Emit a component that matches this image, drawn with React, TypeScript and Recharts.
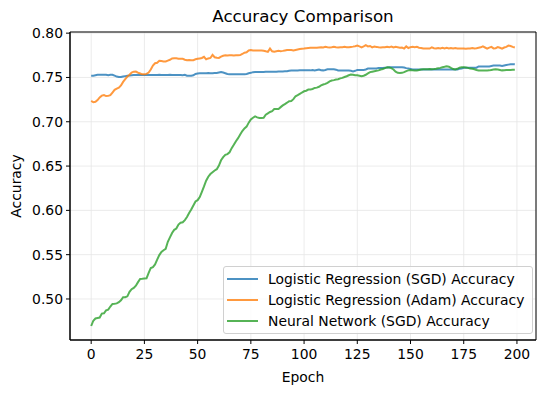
import { CartesianGrid, Legend, Line, LineChart, ReferenceArea, XAxis, YAxis } from "recharts";

const epochs = Array.from({ length: 200 }, (_, i) => i);

const lrSgdAcc = [
  0.752, 0.752, 0.7525, 0.753, 0.753, 0.753, 0.753, 0.753, 0.7525, 0.753,
  0.753, 0.752, 0.751, 0.7505, 0.7505, 0.751, 0.7515, 0.752, 0.7522, 0.7525,
  0.7528, 0.7528, 0.753, 0.7528, 0.7528, 0.7528, 0.753, 0.7528, 0.7528, 0.7528,
  0.7528, 0.7528, 0.753, 0.7528, 0.7528, 0.7528, 0.7528, 0.753, 0.7528, 0.7528,
  0.7528, 0.7528, 0.7528, 0.7525, 0.753, 0.752, 0.7518, 0.752, 0.7525, 0.754,
  0.7545, 0.7548, 0.7548, 0.7548, 0.7548, 0.755, 0.7548, 0.7548, 0.755, 0.755,
  0.7555, 0.756, 0.7555, 0.7548, 0.754, 0.7535, 0.7535, 0.7535, 0.7535, 0.7535,
  0.7535, 0.7535, 0.7535, 0.754, 0.7548, 0.7552, 0.756, 0.7562, 0.7562, 0.7562,
  0.7562, 0.7562, 0.7565, 0.7565, 0.7565, 0.7565, 0.7565, 0.7565, 0.7568, 0.7568,
  0.7568, 0.757, 0.757, 0.7575, 0.7578, 0.7578, 0.7578, 0.7578, 0.758, 0.758,
  0.758, 0.758, 0.758, 0.758, 0.7585, 0.758, 0.7585, 0.759, 0.7582, 0.758,
  0.7585, 0.7592, 0.7592, 0.7592, 0.7592, 0.7588, 0.7578, 0.7578, 0.7578, 0.7578,
  0.7578, 0.7578, 0.7575, 0.7568, 0.7575, 0.7585, 0.7585, 0.7585, 0.7585, 0.759,
  0.76, 0.76, 0.76, 0.76, 0.7602, 0.7608, 0.7608, 0.7608, 0.761, 0.7612,
  0.7615, 0.7615, 0.7615, 0.7615, 0.7615, 0.7615, 0.7615, 0.7612, 0.7605, 0.76,
  0.7595, 0.759, 0.759, 0.759, 0.759, 0.759, 0.759, 0.759, 0.759, 0.759,
  0.759, 0.759, 0.759, 0.759, 0.759, 0.759, 0.759, 0.759, 0.759, 0.759,
  0.759, 0.759, 0.759, 0.7598, 0.7602, 0.761, 0.761, 0.761, 0.761, 0.761,
  0.761, 0.761, 0.7625, 0.7625, 0.7625, 0.7625, 0.7625, 0.7625, 0.763, 0.7635,
  0.7635, 0.7635, 0.7635, 0.763, 0.7635, 0.764, 0.7645, 0.765, 0.765, 0.7648,
];

const lrAdamAcc = [
  0.7235, 0.722, 0.7225, 0.7245, 0.7275, 0.7295, 0.7302, 0.729, 0.7292, 0.73,
  0.733, 0.736, 0.7375, 0.7385, 0.741, 0.745, 0.748, 0.751, 0.753, 0.7555,
  0.7565, 0.7567, 0.7555, 0.7545, 0.7535, 0.7536, 0.754, 0.7555, 0.759, 0.7635,
  0.766, 0.7665, 0.7687, 0.7685, 0.768, 0.768, 0.769, 0.77, 0.7715, 0.7717,
  0.7717, 0.7712, 0.771, 0.771, 0.77, 0.7695, 0.7698, 0.7695, 0.7695, 0.7705,
  0.771, 0.7715, 0.772, 0.7733, 0.7705, 0.7715, 0.772, 0.7755, 0.7728, 0.7722,
  0.772, 0.7735, 0.7745, 0.775, 0.7748, 0.775, 0.775, 0.7748, 0.775, 0.775,
  0.7752, 0.7765, 0.778, 0.7785, 0.7805, 0.781, 0.7805, 0.7805, 0.7805, 0.7805,
  0.7805, 0.7802, 0.7795, 0.779, 0.7826, 0.7795, 0.779, 0.7795, 0.78, 0.7797,
  0.78, 0.7805, 0.781, 0.781, 0.781, 0.7805, 0.781, 0.7815, 0.782, 0.7825,
  0.7826, 0.783, 0.7832, 0.7834, 0.7834, 0.7834, 0.7836, 0.7838, 0.784, 0.7838,
  0.7845, 0.784, 0.7838, 0.784, 0.7845, 0.784, 0.7838, 0.7842, 0.784, 0.7845,
  0.784, 0.7842, 0.7845, 0.7848, 0.7853, 0.786, 0.785, 0.784, 0.785, 0.7864,
  0.785, 0.7855, 0.784, 0.7848, 0.7845, 0.784, 0.7838, 0.7842, 0.784, 0.7845,
  0.784, 0.7848, 0.7838, 0.7845, 0.784, 0.7835, 0.7838, 0.7826, 0.785, 0.7832,
  0.7842, 0.7846, 0.784, 0.7845, 0.7836, 0.7833, 0.7826, 0.7826, 0.7826, 0.7826,
  0.784, 0.783, 0.7826, 0.7832, 0.7828, 0.7835, 0.7828, 0.7834, 0.7828, 0.7832,
  0.7828, 0.7832, 0.7826, 0.7828, 0.7826, 0.7826, 0.7824, 0.7826, 0.7828, 0.7832,
  0.7826, 0.783, 0.7835, 0.784, 0.785, 0.7838, 0.7826, 0.7836, 0.7845, 0.7828,
  0.783, 0.7842, 0.7835, 0.7825, 0.7838, 0.7845, 0.786, 0.7855, 0.7845, 0.7838,
];

const nnSgdAcc = [
  0.4695, 0.4755, 0.478, 0.4785, 0.479, 0.4835, 0.4838, 0.4872, 0.488, 0.4915,
  0.4944, 0.4946, 0.495, 0.4963, 0.4985, 0.502, 0.502, 0.503, 0.508, 0.511,
  0.5125, 0.515, 0.519, 0.5225, 0.5227, 0.523, 0.5232, 0.5294, 0.535, 0.536,
  0.539, 0.5445, 0.5495, 0.553, 0.555, 0.5565, 0.5645, 0.5695, 0.5745, 0.578,
  0.5795, 0.584, 0.586, 0.5866, 0.589, 0.5925, 0.597, 0.601, 0.6055, 0.61,
  0.6115, 0.615, 0.621, 0.627, 0.6335, 0.638, 0.641, 0.643, 0.645, 0.6465,
  0.6505, 0.6565, 0.66, 0.6627, 0.6635, 0.6655, 0.6702, 0.674, 0.678, 0.6815,
  0.6855, 0.6895, 0.6925, 0.6945, 0.699, 0.7025, 0.7045, 0.706, 0.705, 0.7042,
  0.7042, 0.7045, 0.708, 0.7095, 0.711, 0.712, 0.7143, 0.7145, 0.7145, 0.7165,
  0.7185, 0.72, 0.7215, 0.7232, 0.7235, 0.7255, 0.7288, 0.73, 0.7315, 0.733,
  0.7344, 0.735, 0.7363, 0.7365, 0.737, 0.7382, 0.7385, 0.7395, 0.741, 0.742,
  0.7427, 0.744, 0.7455, 0.7465, 0.747, 0.7476, 0.748, 0.749, 0.7495, 0.7505,
  0.7514, 0.7525, 0.7533, 0.753, 0.7525, 0.7525, 0.752, 0.7514, 0.752, 0.753,
  0.7545, 0.756, 0.7565, 0.757, 0.7575, 0.758, 0.759, 0.7595, 0.7605, 0.7616,
  0.7612, 0.7605, 0.759, 0.7565, 0.7552, 0.755, 0.7552, 0.756, 0.7572, 0.758,
  0.7585, 0.758, 0.7578, 0.7578, 0.7585, 0.759, 0.7593, 0.7593, 0.7593, 0.7595,
  0.7593, 0.7595, 0.7598, 0.7603, 0.7608, 0.7615, 0.762, 0.7627, 0.7622, 0.7608,
  0.7595, 0.759, 0.7598, 0.761, 0.7616, 0.7616, 0.7612, 0.7608, 0.76, 0.7598,
  0.7593, 0.7585, 0.7578, 0.7578, 0.7578, 0.7578, 0.7578, 0.758, 0.7585, 0.759,
  0.7593, 0.759, 0.7585, 0.758, 0.7582, 0.7585, 0.7585, 0.7585, 0.7586, 0.7586,
];

const xTicks = [0, 25, 50, 75, 100, 125, 150, 175, 200];
const yTicks = [0.5, 0.55, 0.6, 0.65, 0.7, 0.75, 0.8];

const series = [
  { key: "lrSgd", name: "Logistic Regression (SGD) Accuracy", color: "#1f77b4" },
  { key: "lrAdam", name: "Logistic Regression (Adam) Accuracy", color: "#ff7f0e" },
  { key: "nnSgd", name: "Neural Network (SGD) Accuracy", color: "#2ca02c" },
];

const X_DOMAIN: [number, number] = [-9.95, 208.95];
const Y_DOMAIN: [number, number] = [0.4537, 0.8013];
const FONT = "DejaVu Sans, sans-serif";

const LegendBox = () => (
  <div style={{
    border: "1px solid #d0d0d0", borderRadius: 3, background: "rgba(255,255,255,0.8)",
    padding: "1px 8px 2px 3px", fontFamily: FONT, fontSize: 13.9, color: "#000",
  }}>
    {series.map(s => (
      <div key={s.key} style={{ display: "flex", alignItems: "center", height: 21 }}>
        <svg width={31} height={4} style={{ marginRight: 10 }}>
          <line x1={0} y1={2} x2={31} y2={2} stroke={s.color} strokeOpacity={0.8} strokeWidth={2} />
        </svg>
        <span style={{ whiteSpace: "nowrap" }}>{s.name}</span>
      </div>
    ))}
  </div>
);

export default function App() {
  const data = epochs.map((e, i) => ({
    epoch: e,
    lrSgd: lrSgdAcc[i],
    lrAdam: lrAdamAcc[i],
    nnSgd: nnSgdAcc[i],
  }));

  const tickStyle = { fill: "#000", fontSize: 13.9, fontFamily: FONT };

  return (
    <div style={{ position: "absolute", left: 0, top: 0, width: 545, height: 393, background: "#fff" }}>
      <div style={{
        position: "absolute", left: 70, width: 466, top: 6, textAlign: "center",
        fontFamily: FONT, fontSize: 16.7, color: "#000",
      }}>
        Accuracy Comparison
      </div>
      <LineChart width={545} height={393} data={data} margin={{ top: 32, right: 9, left: 0, bottom: 0 }}>
        <CartesianGrid stroke="#e6e6e6" strokeWidth={0.8} />
        <XAxis
          dataKey="epoch" type="number" domain={X_DOMAIN} ticks={xTicks} allowDataOverflow
          height={53} tickSize={4} tickMargin={5} stroke="#000" tick={tickStyle}
          label={{ value: "Epoch", position: "insideBottom", offset: 11, style: { fill: "#000", fontSize: 13.9, fontFamily: FONT } }}
        />
        <YAxis
          type="number" domain={Y_DOMAIN} ticks={yTicks} allowDataOverflow
          width={70} tickSize={4} tickMargin={3} stroke="#000" tick={tickStyle}
          tickFormatter={(v: number) => v.toFixed(2)}
          label={{ value: "Accuracy", angle: -90, position: "insideLeft", offset: 16, style: { fill: "#000", fontSize: 13.9, fontFamily: FONT, textAnchor: "middle" } }}
        />
        <ReferenceArea x1={X_DOMAIN[0]} x2={X_DOMAIN[1]} y1={Y_DOMAIN[0]} y2={Y_DOMAIN[1]} fill="none" stroke="#000" strokeWidth={1} />
        {series.map(s => (
          <Line
            key={s.key} dataKey={s.key} name={s.name} stroke={s.color} strokeOpacity={0.8}
            strokeWidth={2} dot={false} type="linear" isAnimationActive={false}
          />
        ))}
        <Legend
          layout="vertical" align="center" verticalAlign="middle"
          wrapperStyle={{ left: 223, top: 266, width: "auto" }}
          content={() => <LegendBox />}
        />
      </LineChart>
    </div>
  );
}
